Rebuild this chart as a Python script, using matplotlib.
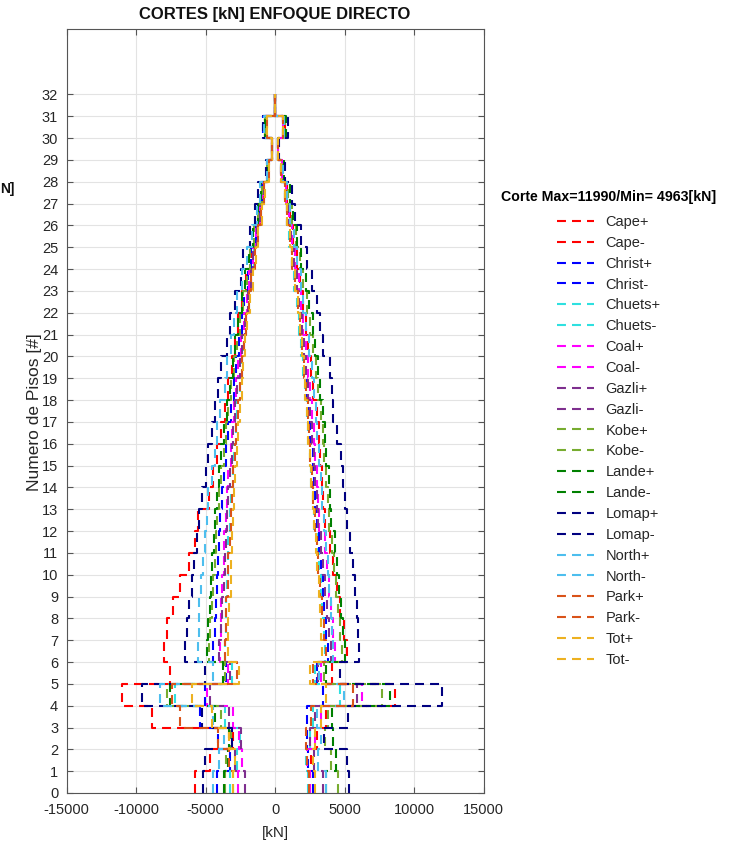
import numpy as np
import matplotlib
matplotlib.use("Agg")
import matplotlib.pyplot as plt
from matplotlib import font_manager

plt.rcParams["font.family"] = ["Liberation Sans", "DejaVu Sans"]
plt.rcParams["axes.unicode_minus"] = False

available = {f.name for f in font_manager.fontManager.ttflist}
NARROW = "Liberation Sans Narrow" if "Liberation Sans Narrow" in available else "Liberation Sans"

# floor levels (step edges)
floors = np.arange(0, 33)

# storey shear per floor [kN], floor i covers level i..i+1
cape_pos = [2500, 2600, 3000, 3700, 8630, 4075, 5150, 4950, 4700, 4450, 4200, 3950, 3600, 3475, 3350, 3240, 3150, 3000, 2760, 2600, 2400, 2200, 2000, 1800, 1550, 1300, 1050, 850, 520, 220, 700, 0]
cape_neg = [-5750, -4700, -3000, -8870, -11030, -7550, -7980, -7790, -7310, -6830, -6180, -5750, -5510, -4750, -4450, -4150, -3850, -3600, -3350, -3100, -2900, -2650, -2350, -2100, -1750, -1450, -1150, -900, -520, -220, -700, 0]
christ_pos = [2760, 2400, 2300, 2280, 3475, 3000, 3800, 3700, 3550, 3450, 3300, 3150, 3000, 2900, 2800, 2700, 2550, 2450, 2300, 2150, 2000, 1850, 1650, 1450, 1250, 1050, 880, 720, 440, 180, 560, 0]
christ_neg = [-4200, -3250, -4100, -5390, -5030, -3500, -4430, -4350, -4280, -4200, -4100, -4000, -3950, -3800, -3650, -3500, -3350, -3200, -2950, -2800, -2600, -2400, -2200, -1950, -1700, -1400, -1150, -900, -550, -240, -850, 0]
chuets_pos = [2400, 2200, 2500, 2700, 4700, 2900, 3600, 3500, 3400, 3300, 3150, 3050, 2800, 2700, 2600, 2500, 2400, 2300, 2150, 2050, 1900, 1750, 1600, 1400, 1200, 1000, 850, 700, 420, 180, 640, 0]
chuets_neg = [-3240, -2700, -2500, -3600, -7190, -3100, -3600, -3550, -3500, -3450, -3400, -3350, -3250, -3150, -3050, -2950, -2800, -2700, -2550, -2400, -2250, -2100, -1900, -1700, -1500, -1250, -1000, -800, -480, -200, -600, 0]
coal_pos = [2520, 2300, 2900, 3300, 6250, 3300, 4300, 4200, 4050, 3900, 3750, 3600, 3200, 3100, 3000, 2900, 2800, 2650, 2500, 2400, 2250, 2050, 1900, 1700, 1450, 1250, 1000, 800, 480, 200, 600, 0]
coal_neg = [-2640, -2400, -2600, -3000, -4880, -3400, -3950, -3900, -3850, -3800, -3700, -3650, -3550, -3450, -3350, -3200, -3100, -2950, -2800, -2650, -2450, -2250, -2050, -1850, -1600, -1350, -1100, -850, -500, -210, -650, 0]
gazli_pos = [3475, 2800, 2500, 2900, 5900, 3100, 4000, 3900, 3750, 3600, 3450, 3300, 3100, 3000, 2900, 2800, 2650, 2550, 2400, 2250, 2100, 1950, 1750, 1550, 1350, 1150, 950, 780, 460, 190, 580, 0]
gazli_neg = [-2160, -2900, -2450, -3300, -4700, -3250, -4000, -3850, -3800, -3700, -3600, -3550, -3450, -3350, -3250, -3100, -3000, -2850, -2700, -2550, -2350, -2150, -1950, -1750, -1550, -1300, -1050, -850, -500, -210, -640, 0]
kobe_pos = [4550, 4000, 3600, 3800, 7670, 3500, 4800, 4700, 4550, 4400, 4250, 4100, 3900, 3800, 3700, 3550, 3450, 3300, 3100, 2950, 2750, 2550, 2300, 2050, 1800, 1500, 1200, 950, 580, 230, 740, 0]
kobe_neg = [-3600, -3500, -3150, -3900, -7790, -3600, -4720, -4650, -4550, -4450, -4350, -4250, -4150, -4000, -3850, -3700, -3500, -3350, -3150, -2950, -2750, -2550, -2300, -2050, -1800, -1500, -1200, -950, -560, -220, -720, 0]
lande_pos = [3700, 4400, 4200, 4075, 8270, 3700, 5030, 4900, 4750, 4600, 4450, 4300, 4050, 3950, 3850, 3700, 3600, 3450, 3240, 3100, 2900, 2700, 2450, 2200, 1900, 1600, 1300, 1050, 620, 240, 780, 0]
lande_neg = [-3700, -3400, -3300, -4300, -7550, -3740, -4870, -4800, -4700, -4600, -4500, -4400, -4300, -4150, -4000, -3850, -3650, -3450, -3240, -3050, -2850, -2650, -2400, -2150, -1850, -1550, -1250, -1000, -580, -230, -750, 0]
lomap_pos = [5300, 5150, 3500, 5270, 11990, 4670, 6060, 5990, 5920, 5750, 5630, 5390, 5200, 5030, 4870, 4720, 4440, 4200, 4080, 3950, 3480, 3240, 3000, 2640, 2280, 1900, 1420, 1200, 700, 280, 900, 0]
lomap_neg = [-5150, -5030, -3100, -5270, -9590, -5030, -6470, -6350, -6180, -5990, -5820, -5630, -5440, -5270, -4960, -4790, -4550, -4310, -4075, -3900, -3480, -3240, -2880, -2470, -2280, -1800, -1440, -1200, -650, -250, -890, 0]
north_pos = [3700, 3100, 3300, 3000, 4963, 3200, 4200, 4100, 4000, 3900, 3800, 3700, 3500, 3400, 3300, 3200, 3050, 2950, 2800, 2650, 2450, 2250, 2050, 1850, 1600, 1350, 1100, 880, 540, 230, 650, 0]
north_neg = [-4430, -4000, -3700, -4450, -8270, -4450, -5510, -5500, -5450, -5330, -5150, -5030, -4870, -4800, -4550, -4300, -4150, -3950, -3600, -3450, -3200, -2950, -2700, -2400, -2050, -1650, -1300, -1050, -600, -250, -800, 0]
park_pos = [2450, 2300, 2200, 2600, 5600, 2700, 3700, 3550, 3400, 3250, 3100, 3000, 2850, 2750, 2650, 2550, 2450, 2350, 2200, 2100, 1950, 1800, 1650, 1450, 1250, 1050, 880, 720, 430, 180, 560, 0]
park_neg = [-3000, -3300, -4100, -6830, -7400, -2700, -3600, -3550, -3500, -3400, -3350, -3250, -3200, -3100, -3000, -2900, -2800, -2650, -2500, -2400, -2250, -2100, -1900, -1700, -1450, -1250, -1000, -780, -460, -190, -580, 0]
tot_pos = [2900, 2700, 2900, 3300, 3700, 2520, 3350, 3300, 3250, 3150, 3050, 2950, 2800, 2700, 2600, 2500, 2400, 2300, 2180, 2080, 1950, 1800, 1650, 1450, 1250, 1050, 880, 720, 430, 180, 560, 0]
tot_neg = [-3000, -2900, -3300, -4500, -6000, -2600, -3400, -3350, -3300, -3200, -3150, -3100, -3050, -2950, -2850, -2750, -2650, -2550, -2400, -2300, -2150, -2000, -1800, -1600, -1400, -1200, -950, -750, -450, -180, -560, 0]

records = ["Cape", "Christ", "Chuets", "Coal", "Gazli", "Kobe", "Lande", "Lomap", "North", "Park", "Tot"]
colors = ["#FF0000", "#0000FF", "#2EE0E0", "#FF00FF", "#7E2F8E", "#77AC30",
          "#008000", "#000080", "#4DBEEE", "#D95319", "#EDB120"]
pos_series = [cape_pos, christ_pos, chuets_pos, coal_pos, gazli_pos, kobe_pos,
              lande_pos, lomap_pos, north_pos, park_pos, tot_pos]
neg_series = [cape_neg, christ_neg, chuets_neg, coal_neg, gazli_neg, kobe_neg,
              lande_neg, lomap_neg, north_neg, park_neg, tot_neg]

x_ticks = [-15000, -10000, -5000, 0, 5000, 10000, 15000]
y_ticks = list(range(0, 33))

W, H = 739, 848
fig = plt.figure(figsize=(W / 100, H / 100), dpi=100)
ax = fig.add_axes([66.5 / W, 55 / H, (483.5 - 66.5) / W, (793 - 29) / H])

dash = (0, (4.3, 2.9))
for name, color, pos, neg in zip(records, colors, pos_series, neg_series):
    for sign, vals in (("+", pos), ("-", neg)):
        x = np.append(vals, vals[-1])
        ax.plot(x, floors, drawstyle="steps-pre", ls=dash, lw=1.5,
                color=color, label=name + sign)

ax.set_xlim(-15000, 15000)
ax.set_ylim(0, 35)
ax.set_xticks(x_ticks)
ax.set_xticklabels([str(v) for v in x_ticks])
ax.set_yticks(y_ticks)
ax.grid(True, color="#e3e3e3", lw=0.8)
ax.set_axisbelow(True)
for s in ax.spines.values():
    s.set_color("#555555")
    s.set_linewidth(0.8)
ax.tick_params(direction="in", length=4.5, width=0.8, color="#555555",
               top=True, right=True, labelsize=10.5, labelcolor="#262626")
ax.tick_params(axis="x", pad=7)
ax.tick_params(axis="y", pad=6)

ax.set_title("CORTES [kN] ENFOQUE DIRECTO", fontsize=12, fontweight="bold",
             color="#111111", pad=7)
fig.text(275 / W, 1 - 833 / H, "[kN]", ha="center", va="center",
         fontsize=11, color="#262626")
fig.text(35 / W, 1 - 412 / H, "Numero de Pisos [#]", rotation=90,
         ha="center", va="center", fontsize=12.5, color="#262626")
# tail of a neighbouring caption at the left edge
fig.text(0.5 / W, 1 - 189 / H, "N]", ha="left", va="center",
         fontsize=10, fontweight="bold", color="#111111")

leg = ax.legend(loc="upper left", bbox_to_anchor=(501 / W, 1 - 190 / H),
                bbox_transform=fig.transFigure, frameon=False,
                title="Corte Max=11990/Min= 4963[kN]",
                title_fontproperties={"weight": "bold", "size": 10.2},
                prop={"family": NARROW, "size": 10.5},
                handlelength=2.6, handletextpad=0.75, labelspacing=0.47,
                borderpad=0, borderaxespad=0)
# a little extra room between the caption and the first entry
leg._legend_box.sep = leg._legend_box.sep + 3
for t in leg.get_texts():
    t.set_color("#262626")

fig.savefig("out.png", dpi=100)
